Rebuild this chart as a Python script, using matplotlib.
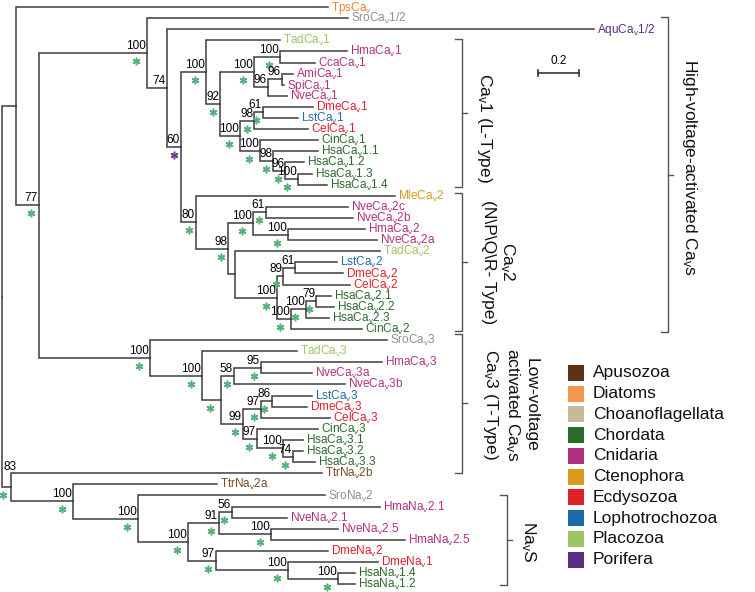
import matplotlib.pyplot as plt
from matplotlib.patches import Rectangle

plt.rcParams['font.family'] = ['Liberation Sans', 'DejaVu Sans']
plt.rcParams['mathtext.default'] = 'regular'

# tree in newick, branch lengths in substitutions/site
# node names: bootstrap value, '*' = green star, '+' = purple star
cav1 = ("(TadCa1:0.365,(((HmaCa1:0.330,CcaCa1:0.172)100*:0.128,"
        "((AmiCa1:0.054,SpiCa1:0.010)96:0.069,NveCa1:0.094)96:0.069)100*:0.167,"
        "(((DmeCa1:0.246,LstCa1:0.172)61*:0.044,CelCa1:0.266)98*:0.069,"
        "(CinCa1:0.286,(HsaCa1.1:0.222,(HsaCa1.2:0.094,(HsaCa1.3:0.069,HsaCa1.4:0.143)100*:0.064)96*:0.059)98*:0.064)100*:0.099)100*:0.099)92*:0.069)100*")
cav2 = ("(MleCa2:0.980,(((NveCa2c:0.404,NveCa2b:0.429)61*:0.064,(HmaCa2:0.379,NveCa2a:0.438)100*:0.172)100*:0.123,"
        "(TadCa2:0.714,(((LstCa2:0.207,DmeCa2:0.236)61:0.059,CelCa2:0.330)89*:0.030,"
        "(((HsaCa2.1:0.074,HsaCa2.2:0.089)79*:0.049,HsaCa2.3:0.113)100*:0.074,CinCa2:0.350)100*:0.069)100*:0.207):0.034)98*:0.158)80*")
cav3 = ("(SroCa3:1.167,(TadCa3:0.468,(((HmaCa3:0.596,NveCa3a:0.251)95*:0.133,NveCa3b:0.547)58*:0.064,"
        "(((LstCa3:0.197,DmeCa3:0.172)86*:0.054,CelCa3:0.340)97*:0.089,"
        "(CinCa3:0.300,(HsaCa3.1:0.099,(HsaCa3.2:0.049,HsaCa3.3:0.108)74*:0.049)100*:0.128)97*:0.069)99*:0.108)*:0.094)100*:0.256)100*")
nav = ("(TtrNa2b:1.532,(TtrNa2a:0.709,(SroNa2:0.921,(((HmaNa2.1:0.729,NveNa2.1:0.271)56*:0.064,"
       "(NveNa2.5:0.330,HmaNa2.5:0.660)100*:0.256)91*:0.153,(DmeNa2:0.552,(DmeNa1:0.443,"
       "(HsaNa1.4:0.084,HsaNa1.2:0.084)100*:0.246)100*:0.355)97*:0.138)100*:0.246)100*:0.320)100*:0.305)83*")
hva = f"(SroCa1/2:0.990,(AquCa1/2:2.103,({cav1}:0.123,{cav2}:0.074)60+:0.069)74:0.099)100*"
cav = f"(TpsCa:1.537,({hva}:0.532,{cav3}:0.547)77*:0.113)"
tree = f"({cav}:0.069,{nav}:0.044);"

species_group = {'Ttr': 'Apusozoa', 'Tps': 'Diatoms', 'Sro': 'Choanoflagellata',
                 'Cin': 'Chordata', 'Hsa': 'Chordata', 'Hma': 'Cnidaria', 'Cca': 'Cnidaria',
                 'Ami': 'Cnidaria', 'Spi': 'Cnidaria', 'Nve': 'Cnidaria', 'Mle': 'Ctenophora',
                 'Dme': 'Ecdysozoa', 'Cel': 'Ecdysozoa', 'Lst': 'Lophotrochozoa',
                 'Tad': 'Placozoa', 'Aqu': 'Porifera'}
groups = ['Apusozoa', 'Diatoms', 'Choanoflagellata', 'Chordata', 'Cnidaria',
          'Ctenophora', 'Ecdysozoa', 'Lophotrochozoa', 'Placozoa', 'Porifera']
group_colors = ['#5c3317', '#f69552', '#c8b99a', '#2b6a2b', '#b03080',
                '#d69a1e', '#e01f2b', '#1f6aa8', '#9cc564', '#5a2d84']
text_colors = {'Choanoflagellata': '#8f8f8f', 'Apusozoa': '#7b4a22', 'Diatoms': '#f28033'}

# clade brackets: top row, bottom row, x (branch units)
bracket_top = [2.88, 16.8, 0.9, 29.47, 44.0]
bracket_bot = [16.26, 29.2, 29.29, 41.96, 52.1]
bracket_x = [2.266, 2.266, 3.281, 2.266, 2.488]
clade_names = ['Ca$_v$1 (L-Type)', 'Ca$_v$2\n(N\\P\\Q\\R- Type)', 'High-voltage-activated Ca$_v$s',
               'Low-voltage\nactivated Ca$_v$s\nCa$_v$3 (T-Type)', 'Na$_v$S']
clade_x = [2.379, 2.448, 3.389, 2.502, 2.591]
clade_y = [10.87, 23.0, 14.47, 35.85, 48.16]

PX = 203.0   # pixels per branch unit
ROW = 11.1   # pixels per leaf row
line_col = '#3d3d3d'
star_green = '#55b27a'
star_purple = '#6b3f8f'


def parse(s, i=0):
    node = {'children': [], 'name': '', 'length': 0.0}
    if s[i] == '(':
        i += 1
        while True:
            child, i = parse(s, i)
            node['children'].append(child)
            i += 1
            if s[i - 1] == ')':
                break
    j = i
    while s[i] not in ',():;':
        i += 1
    node['name'] = s[j:i]
    if s[i] == ':':
        i += 1
        k = i
        while s[i] not in ',);':
            i += 1
        node['length'] = float(s[k:i])
    return node, i


root, _ = parse(tree)
leaves = []


def layout(node, x0):
    node['x'] = x0 + node['length']
    if node['children']:
        for c in node['children']:
            layout(c, node['x'])
        node['y'] = (node['children'][0]['y'] + node['children'][-1]['y']) / 2
    else:
        node['y'] = len(leaves)
        leaves.append(node)


layout(root, 0.0)

fig = plt.figure(figsize=(7.55, 5.92), dpi=100)
ax = fig.add_axes([0, 0, 1, 1])
ax.set_xlim(-2 / PX, 753 / PX)
ax.set_ylim(585 / ROW, -7 / ROW)
ax.axis('off')


def draw(node):
    kids = node['children']
    for c in kids:
        ax.plot([node['x'], node['x'], c['x']], [node['y'], c['y'], c['y']],
                color=line_col, lw=1.1, solid_joinstyle='miter')
        draw(c)
    if not kids:
        name = node['name']
        grp = species_group[name[:3]]
        col = text_colors.get(grp, group_colors[groups.index(grp)])
        ax.annotate(name[:5] + '$_v$' + name[5:], (node['x'], node['y']), xytext=(3, -4),
                    textcoords='offset pixels', ha='left', va='baseline', fontsize=8.5, color=col)
        return
    label = node['name']
    support = label.rstrip('*+')
    w = len(support or '100') * 6.5
    if support:
        if node['x'] * PX < 15:
            # branch too short: put the value over the node
            ax.annotate(support, (node['x'], kids[0]['y']), xytext=(-1, 3), textcoords='offset pixels',
                        ha='center', va='baseline', fontsize=8.5)
        else:
            ax.annotate(support, (node['x'], node['y']), xytext=(-1, 4), textcoords='offset pixels',
                        ha='right', va='baseline', fontsize=8.5)
    if label.endswith('*') or label.endswith('+'):
        sc = star_green if label.endswith('*') else star_purple
        ax.plot(node['x'] - (1 + w / 2) / PX, node['y'] + 8 / ROW, marker=(6, 2, 0),
                ms=5.5, mew=1.1, color=sc)


draw(root)

# clade brackets
for yt, yb, bx in zip(bracket_top, bracket_bot, bracket_x):
    ym = (yt + yb) / 2
    ax.plot([bx - 7 / PX, bx, bx, bx - 7 / PX], [yt, yt, yb, yb], color='#555555', lw=1.0)
    ax.plot([bx, bx + 5 / PX], [ym, ym], color='#555555', lw=1.0)

for name, cx, cy in zip(clade_names, clade_x, clade_y):
    ax.text(cx, cy, name, rotation=-90, ha='center', va='center', multialignment='center',
            fontsize=12.5, color='#111111')

# scale bar
sx, sy = 2.640, 5.93
ax.plot([sx, sx + 0.2], [sy, sy], color='#333333', lw=1.2)
for xx in (sx, sx + 0.2):
    ax.plot([xx, xx], [sy - 0.28, sy + 0.28], color='#333333', lw=1.2)
ax.text(sx + 0.1, sy - 0.55, '0.2', ha='center', va='bottom', fontsize=8.5)

# legend
for i, (g, c) in enumerate(zip(groups, group_colors)):
    yc = 32.97 + i * 1.869
    ax.add_patch(Rectangle((2.788, yc - 0.72), 16 / PX, 16 / ROW, color=c, lw=0))
    ax.text(2.911, yc, g, ha='left', va='center', fontsize=12.5, color='#111111')

fig.savefig('out.png', dpi=100)
